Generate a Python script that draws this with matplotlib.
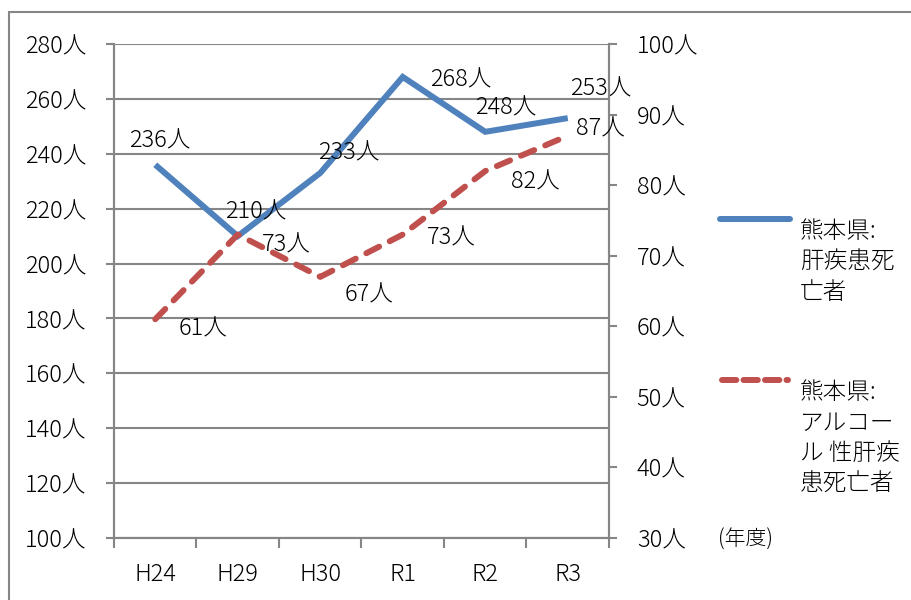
import matplotlib
matplotlib.use("Agg")
import matplotlib.pyplot as plt
from matplotlib.lines import Line2D
from matplotlib.patches import Rectangle
from matplotlib.ticker import FuncFormatter, FixedLocator

plt.rcParams['font.family'] = ['Noto Sans CJK JP', 'DejaVu Sans']
plt.rcParams['font.weight'] = 'light'

# データ
years = ["H24", "H29", "H30", "R1", "R2", "R3"]
liver_deaths = [236, 210, 233, 268, 248, 253]        # 熊本県:肝疾患死亡者 (左軸)
alcohol_deaths = [61, 73, 67, 73, 82, 87]            # 熊本県:アルコール性肝疾患死亡者 (右軸)
label_liver = "熊本県:\n肝疾患死\n亡者"
label_alcohol = "熊本県:\nアルコー\nル 性肝疾\n患死亡者"

# ラベル位置 (ピクセルずらし)
off_liver = [(5, 24), (18, 24), (29, 20), (58, -3), (21, 24), (33, 29)]
off_alcohol = [(48, -10), (49, -10), (49, -18), (49, -3), (50, -11), (33, 7)]

BLUE = "#4F81BD"
RED = "#C0504D"
GREY = "#868686"
FS = 17

fig = plt.figure(figsize=(9.12, 6.0), dpi=100)
ax = fig.add_axes([114 / 912, 1 - 538 / 600, (609 - 114) / 912, (538 - 44) / 600])
ax2 = ax.twinx()

x = list(range(len(years)))
ax.plot(x, liver_deaths, color=BLUE, lw=4.3, solid_capstyle='butt', solid_joinstyle='miter', zorder=3)
ax2.plot(x, alcohol_deaths, color=RED, lw=4.3, dashes=(2.4, 2.0), dash_capstyle='round', zorder=3)

ax.set_xlim(-0.5, len(years) - 0.5)
ax.set_ylim(100, 280)
ax2.set_ylim(30, 100)
ax.set_yticks(range(100, 281, 20))
ax2.set_yticks(range(30, 101, 10))
fmt = FuncFormatter(lambda v, p: f"{int(v)}人")
ax.yaxis.set_major_formatter(fmt)
ax2.yaxis.set_major_formatter(fmt)

ax.set_xticks(x)
ax.set_xticklabels(years)
ax.xaxis.set_minor_locator(FixedLocator([i - 0.5 for i in range(len(years) + 1)]))
ax.tick_params(axis='x', which='major', length=0, pad=17, labelsize=FS)
ax.tick_params(axis='x', which='minor', length=7, width=1.5, color=GREY)
ax.tick_params(axis='y', length=6, width=1.5, color=GREY, pad=14, labelsize=FS)
ax2.tick_params(axis='y', length=6, width=1.5, color=GREY, pad=14, labelsize=FS)

ax.grid(axis='y', color=GREY, lw=1.5)
ax.set_axisbelow(True)
for a in (ax, ax2):
    a.spines['top'].set_visible(False)
    for s in ('left', 'right', 'bottom'):
        a.spines[s].set_color(GREY)
        a.spines[s].set_linewidth(1.5)

for xi, v, (dx, dy) in zip(x, liver_deaths, off_liver):
    ax.annotate(f"{v}人", xy=(xi, v), xytext=(dx, dy), textcoords='offset pixels',
                ha='center', va='center', fontsize=FS, zorder=5)
for xi, v, (dx, dy) in zip(x, alcohol_deaths, off_alcohol):
    ax2.annotate(f"{v}人", xy=(xi, v), xytext=(dx, dy), textcoords='offset pixels',
                 ha='center', va='center', fontsize=FS, zorder=5)

# 凡例
fig.add_artist(Line2D([720 / 912, 790 / 912], [1 - 219 / 600] * 2, color=BLUE, lw=4.3,
                      solid_capstyle='round'))
fig.add_artist(Line2D([722 / 912, 788 / 912], [1 - 380 / 600] * 2, color=RED, lw=4.3,
                      dashes=(2.4, 1.2), dash_capstyle='round'))
fig.text(800 / 912, 1 - 219 / 600, label_liver, fontsize=FS, va='top', ha='left',
         linespacing=1.3)
fig.text(800 / 912, 1 - 380 / 600, label_alcohol, fontsize=FS, va='top', ha='left',
         linespacing=1.3)
fig.text(718 / 912, 1 - 540 / 600, "(年度)", fontsize=FS - 2, va='center', ha='left')

# 外枠
fig.add_artist(Rectangle((9 / 912, -0.1), 1.2, 1.1 - 12 / 600, transform=fig.transFigure,
                         fill=False, edgecolor=GREY, lw=1.5))

fig.savefig("out.png", dpi=100)
